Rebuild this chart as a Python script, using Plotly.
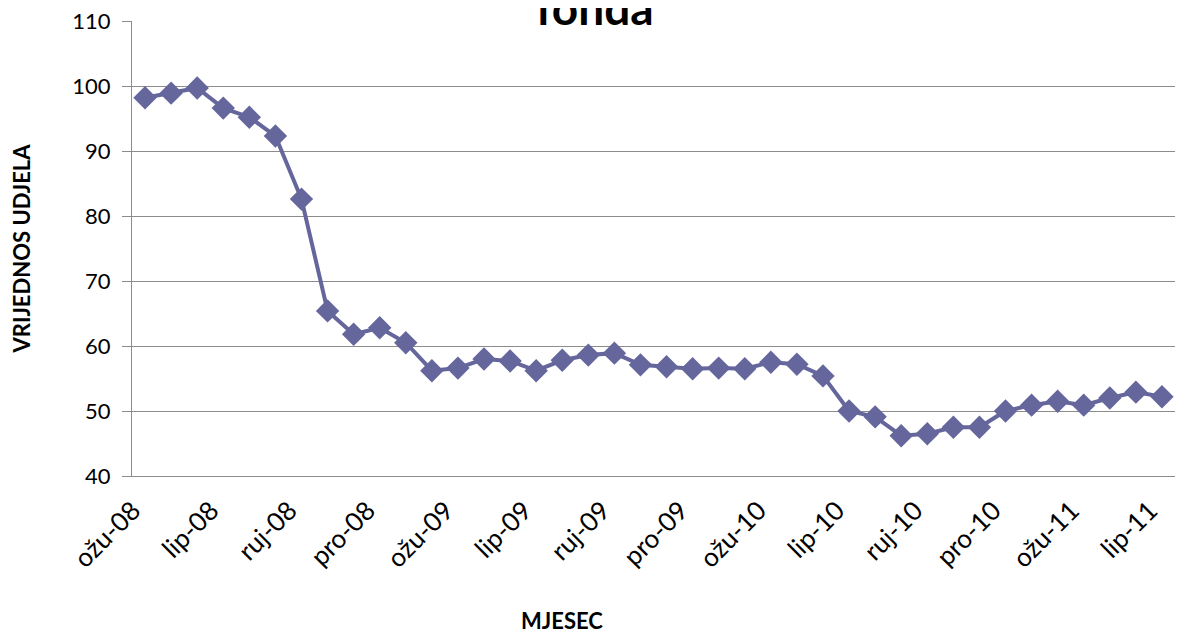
import plotly.graph_objects as go

months = [
    "ožu-08", "tra-08", "svi-08", "lip-08", "srp-08", "kol-08", "ruj-08", "lis-08", "stu-08", "pro-08",
    "sij-09", "velj-09", "ožu-09", "tra-09", "svi-09", "lip-09", "srp-09", "kol-09", "ruj-09", "lis-09",
    "stu-09", "pro-09", "sij-10", "velj-10", "ožu-10", "tra-10", "svi-10", "lip-10", "srp-10", "kol-10",
    "ruj-10", "lis-10", "stu-10", "pro-10", "sij-11", "velj-11", "ožu-11", "tra-11", "svi-11", "lip-11",
]
values = [
    98.2, 98.9, 99.7, 96.6, 95.2, 92.3, 82.6, 65.4, 61.8, 62.8,
    60.5, 56.2, 56.6, 58.0, 57.7, 56.2, 57.8, 58.6, 58.9, 57.1,
    56.8, 56.5, 56.6, 56.5, 57.5, 57.2, 55.4, 50.0, 49.1, 46.2,
    46.5, 47.5, 47.5, 50.0, 50.9, 51.5, 50.9, 52.0, 52.9, 52.2,
]
shown_ticks = months[::3]

title_text = "fonda"
x_title = "MJESEC"
y_title = "VRIJEDNOS UDJELA"

color = "#65669C"
grid = "#8C8C8C"
FONT = "Lato, Carlito, Calibri, sans-serif"

fig = go.Figure(
    go.Scatter(
        x=months,
        y=values,
        mode="lines+markers",
        line=dict(color=color, width=4),
        marker=dict(symbol="diamond", size=18, color=color),
        showlegend=False,
        cliponaxis=False,
    )
)

fig.update_layout(
    width=1185,
    height=635,
    paper_bgcolor="white",
    plot_bgcolor="white",
    margin=dict(l=124, r=18, t=13, b=167, autoexpand=False),
    font=dict(family=FONT, color="black"),
    annotations=[
        dict(
            text="<b>" + title_text + "</b>",
            xref="paper", yref="paper",
            x=0.444, y=1.0, xanchor="center", yanchor="bottom",
            yshift=-16,
            showarrow=False,
            font=dict(size=46, family=FONT, color="black"),
        ),
        dict(
            text="<b>" + x_title + "</b>",
            xref="paper", yref="paper",
            x=0.4125, y=-0.3165, xanchor="center", yanchor="middle",
            showarrow=False,
            font=dict(size=22, family=FONT, color="black"),
        ),
    ],
)

fig.update_xaxes(
    type="category",
    automargin=False,
    range=[-0.5, len(months) - 0.5],
    tickmode="array",
    tickvals=shown_ticks,
    ticktext=shown_ticks,
    tickangle=-45,
    tickfont=dict(size=26, family=FONT),
    ticklabelshift=-12,
    ticklabeloverflow="allow",
    showgrid=False,
    showline=True,
    linecolor=grid,
    linewidth=1,
    ticks="outside",
    ticklen=8,
    tickcolor="rgba(0,0,0,0)",
)

fig.update_yaxes(
    automargin=False,
    range=[40, 110],
    dtick=10,
    tickfont=dict(size=22, family=FONT),
    ticklabeloverflow="allow",
    showgrid=True,
    gridcolor=grid,
    gridwidth=1,
    showline=True,
    linecolor=grid,
    ticks="outside",
    ticklen=9,
    tickcolor=grid,
    ticklabelstandoff=7,
    zeroline=False,
    title=dict(text="<b>" + y_title + "</b>", font=dict(size=22, family=FONT), standoff=35),
)

fig.write_html("out.html")
